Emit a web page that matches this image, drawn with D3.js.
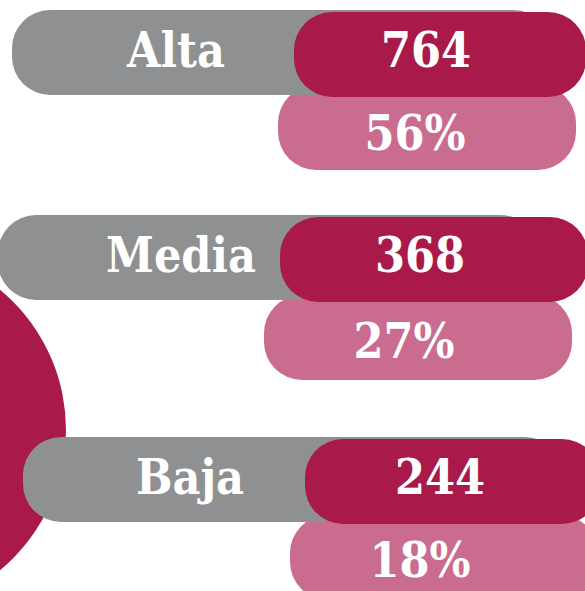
<!DOCTYPE html>
<html><head><meta charset="utf-8">
<script src="https://cdn.jsdelivr.net/npm/d3@7"></script>
<style>
html,body{margin:0;padding:0;background:#fff;overflow:hidden;}
svg{display:block;}
</style></head>
<body>
<script>
// ---- data ----
const categories = ["Alta", "Media", "Baja"];
const counts = [764, 368, 244];
const percents = [56, 27, 18];

// ---- layout ----
const W = 585, H = 591;
const colors = { gray: "#8f9092", crimson: "#a91a4a", pink: "#c96c8f", text: "#ffffff" };
const font = "'DejaVu Serif Condensed', 'DejaVu Serif', serif";

const pillH = 85, r = 38;
// per-row layout scales (hand-placed infographic rows)
const grayY = d3.scaleOrdinal().domain(categories).range([10, 215, 437]);
const grayX0 = d3.scaleOrdinal().domain(categories).range([12, -2, 23]);
const grayX1 = d3.scaleOrdinal().domain(categories).range([552, 538, 563]);
const redX0 = d3.scaleOrdinal().domain(categories).range([294, 280, 305]);
const redX1 = d3.scaleOrdinal().domain(categories).range([586, 588, 600]);
const pinkX0 = d3.scaleOrdinal().domain(categories).range([278, 264, 290]);
const pinkX1 = d3.scaleOrdinal().domain(categories).range([576, 572, 598]);
const pinkY1 = d3.scaleOrdinal().domain(categories).range([170, 380, 600]);
const labelX = d3.scaleOrdinal().domain(categories).range([176, 181, 190]);
const countX = d3.scaleOrdinal().domain(categories).range([426, 420, 440]);
const pctX = d3.scaleOrdinal().domain(categories).range([415, 404, 420]);
const pctBase = d3.scaleOrdinal().domain(categories).range([150, 358, 577]);

const rows = categories.map((c, i) => ({ cat: c, count: counts[i], pct: percents[i] }));

const svg = d3.select("body").append("svg").attr("width", W).attr("height", H);

// decorative circle
svg.append("circle").attr("cx", -116).attr("cy", 430).attr("r", 182).attr("fill", colors.crimson);

const g = svg.selectAll("g.row").data(rows).join("g").attr("class", "row");

g.append("rect").attr("x", d => pinkX0(d.cat)).attr("y", d => pinkY1(d.cat) - pillH)
  .attr("width", d => pinkX1(d.cat) - pinkX0(d.cat)).attr("height", pillH)
  .attr("rx", r).attr("fill", colors.pink);
g.append("rect").attr("x", d => grayX0(d.cat)).attr("y", d => grayY(d.cat))
  .attr("width", d => grayX1(d.cat) - grayX0(d.cat)).attr("height", pillH)
  .attr("rx", r).attr("fill", colors.gray);
g.append("rect").attr("x", d => redX0(d.cat)).attr("y", d => grayY(d.cat) + 2)
  .attr("width", d => redX1(d.cat) - redX0(d.cat)).attr("height", pillH)
  .attr("rx", r).attr("fill", colors.crimson);

const txt = sel => sel.attr("text-anchor", "middle").attr("fill", colors.text)
  .attr("font-family", font).attr("font-weight", "bold").attr("font-size", 48);

g.append("text").call(txt)
  .attr("x", d => labelX(d.cat)).attr("y", d => grayY(d.cat) + 57)
  .text(d => d.cat);
g.append("text").call(txt)
  .attr("x", d => countX(d.cat)).attr("y", d => grayY(d.cat) + 57)
  .text(d => d.count);
g.append("text").call(txt)
  .attr("x", d => pctX(d.cat)).attr("y", d => pctBase(d.cat))
  .text(d => d.pct + "%");
</script>
</body></html>
